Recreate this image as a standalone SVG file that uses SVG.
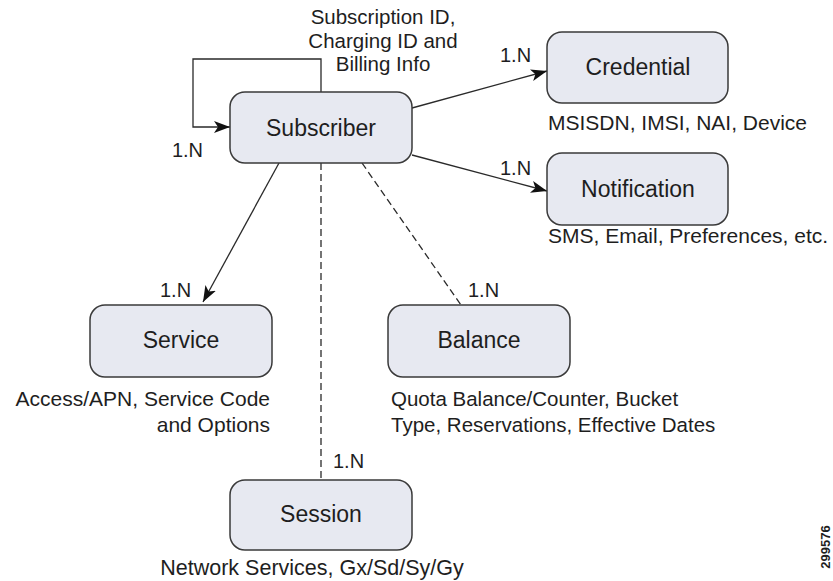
<svg xmlns="http://www.w3.org/2000/svg" width="833" height="581" viewBox="0 0 833 581">
<defs>
<style>
.box{fill:#e7e9f1;stroke:#3a3a3a;stroke-width:1.5}
.t{font-family:"Liberation Sans",Arial,sans-serif;fill:#1e1e1e}
.title{font-size:23px;text-anchor:middle}
.sub{font-size:21px}
.card{font-size:20px}
.ln{fill:none;stroke:#2a2a2a;stroke-width:1.3}
.dash{stroke-dasharray:7 4}
</style>
<marker id="arr" viewBox="0 0 16 12" refX="16" refY="6" markerWidth="16" markerHeight="12" markerUnits="userSpaceOnUse" orient="auto">
<path d="M0,0 L16,6 L0,12 L4,6 Z" fill="#111"/>
</marker>
</defs>
<rect width="833" height="581" fill="#fff"/>
<g id="connectors">
<path class="ln" d="M321,92 V59 H193 V127 H230" marker-end="url(#arr)"/>
<path class="ln" d="M412,108 L547,71" marker-end="url(#arr)"/>
<path class="ln" d="M412,155 L547,191" marker-end="url(#arr)"/>
<path class="ln" d="M279,163 L203,302" marker-end="url(#arr)"/>
<path class="ln dash" d="M362,163 L461,305"/>
<path class="ln dash" d="M321,163 V480"/>
<text class="t card" x="203" y="157" text-anchor="end">1.N</text>
<text class="t card" x="500" y="62">1.N</text>
<text class="t card" x="500" y="175">1.N</text>
<text class="t card" x="160" y="297">1.N</text>
<text class="t card" x="468" y="297">1.N</text>
<text class="t card" x="333" y="468">1.N</text>
<text class="t sub" text-anchor="middle" style="font-size:20.5px"><tspan x="383" y="24">Subscription ID,</tspan><tspan x="383" y="48">Charging ID and</tspan><tspan x="383" y="71">Billing Info</tspan></text>
</g>
<g id="subscriber">
<rect class="box" x="230" y="92" width="182" height="71" rx="15"/>
<text class="t title" x="321" y="136">Subscriber</text>
</g>
<g id="credential">
<rect class="box" x="547" y="32" width="181" height="71" rx="15"/>
<text class="t title" x="638" y="75">Credential</text>
<text class="t sub" x="548" y="130">MSISDN, IMSI, NAI, Device</text>
</g>
<g id="notification">
<rect class="box" x="547" y="153" width="181" height="72" rx="15"/>
<text class="t title" x="638" y="197">Notification</text>
<text class="t sub" x="548" y="243">SMS, Email, Preferences, etc.</text>
</g>
<g id="service">
<rect class="box" x="90" y="305" width="182" height="72" rx="15"/>
<text class="t title" x="181" y="348">Service</text>
<text class="t sub" text-anchor="end"><tspan x="270" y="406">Access/APN, Service Code</tspan><tspan x="270" y="432">and Options</tspan></text>
</g>
<g id="balance">
<rect class="box" x="388" y="305" width="182" height="72" rx="15"/>
<text class="t title" x="479" y="348">Balance</text>
<text class="t sub" style="font-size:20.5px"><tspan x="391" y="406">Quota Balance/Counter, Bucket</tspan><tspan x="391" y="432">Type, Reservations, Effective Dates</tspan></text>
</g>
<g id="session">
<rect class="box" x="230" y="480" width="182" height="70" rx="15"/>
<text class="t title" x="321" y="522">Session</text>
<text class="t sub" x="312" y="575" text-anchor="middle" style="font-size:21.5px">Network Services, Gx/Sd/Sy/Gy</text>
</g>
<text class="t" x="0" y="0" font-size="13" font-weight="bold" text-anchor="middle" transform="translate(830,547) rotate(-90)">299576</text>
</svg>
